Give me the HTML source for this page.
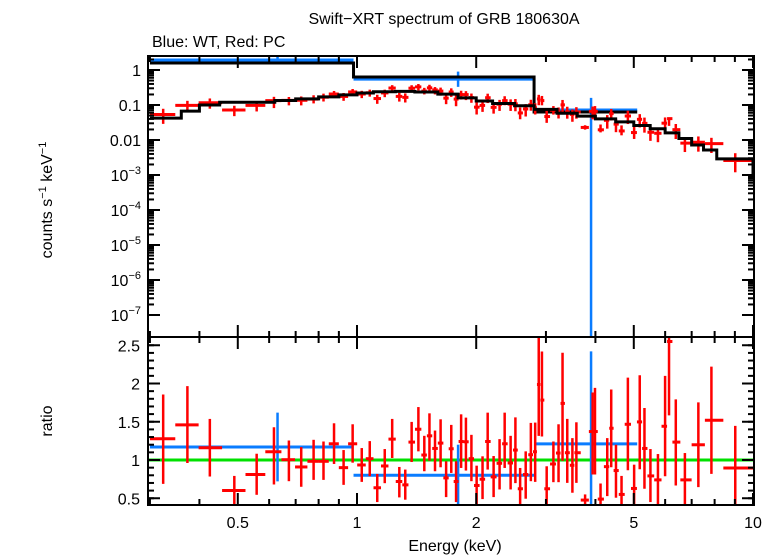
<!DOCTYPE html>
<html><head><meta charset="utf-8"><style>
html,body{margin:0;padding:0;background:#fff;}
svg{display:block;font-family:"Liberation Sans",Arial,sans-serif;}
</style></head><body>
<svg id="chart" width="779" height="556" viewBox="0 0 779 556" xmlns="http://www.w3.org/2000/svg">
<text x="444" y="24" font-size="16" text-anchor="middle">Swift−XRT spectrum of GRB 180630A</text>
<text x="152" y="47" font-size="16">Blue: WT, Red: PC</text>
<text transform="translate(52,200) rotate(-90)" font-size="16" text-anchor="middle">counts s<tspan dy="-6" font-size="11">−1</tspan><tspan dy="6"> keV</tspan><tspan dy="-6" font-size="11">−1</tspan></text>
<text transform="translate(52,421) rotate(-90)" font-size="16" text-anchor="middle">ratio</text>
<text x="455" y="551" font-size="16" text-anchor="middle">Energy (keV)</text>
<g id="g"></g>
</svg>
<script>
// ---- data ----
const redE = [0.324,0.373,0.425,0.490,0.558,0.617,0.673,0.723,0.777,0.823,0.875,0.925,0.975,1.028,1.077,1.125,1.175,1.227,1.279,1.324,1.374,1.429,1.479,1.524,1.574,1.626,1.679,1.730,1.779,1.832,1.884,1.945,2.005,2.075,2.138,2.213,2.291,2.360,2.443,2.512,2.582,2.667,2.748,2.818,2.877,2.931,3.013,3.133,3.228,3.304,3.396,3.499,3.581,3.767,3.936,3.990,4.121,4.285,4.385,4.508,4.656,4.831,5.01,5.176,5.32,5.508,5.754,5.998,6.137,6.383,6.730,7.278,7.852,9.02];
const redRatio = [1.277,1.459,1.160,0.602,0.810,1.108,1.004,0.909,0.983,0.983,1.212,0.900,1.212,0.935,1.017,0.637,0.922,1.273,0.719,0.675,1.234,1.402,1.065,1.316,1.151,1.221,0.766,1.147,0.719,1.242,1.238,1.017,0.667,0.749,1.242,0.779,0.957,1.212,0.961,1.130,0.624,0.810,1.069,1.108,1.987,1.783,0.624,0.948,1.091,1.740,1.095,0.931,1.095,0.476,1.372,1.372,0.489,0.913,1.415,0.862,0.550,1.467,0.628,1.498,1.151,0.792,0.740,1.441,2.549,1.234,0.740,1.199,1.519,0.896];
const redHi = [1.857,1.965,1.537,0.792,1.082,1.428,1.255,1.169,1.264,1.242,1.480,1.130,1.467,1.156,1.247,0.818,1.143,1.537,0.909,0.875,1.498,1.692,1.316,1.610,1.385,1.532,0.983,1.459,0.983,1.597,1.554,1.329,0.926,1.048,1.619,1.052,1.273,1.619,1.316,1.558,0.896,1.113,1.485,1.489,2.605,2.419,0.918,1.242,1.467,2.402,1.537,1.286,1.493,0.550,1.883,1.943,0.693,1.286,1.922,1.199,0.792,2.077,0.939,2.108,1.679,1.143,1.078,2.099,2.605,1.792,1.091,1.753,2.220,1.446];
const redLo = [0.688,0.961,0.784,0.40,0.545,0.680,0.723,0.650,0.740,0.740,0.948,0.675,0.965,0.714,0.788,0.450,0.697,1.026,0.511,0.481,0.974,1.113,0.853,0.991,0.853,0.905,0.515,0.831,0.450,0.896,0.862,0.723,0.412,0.489,0.875,0.515,0.615,0.896,0.615,0.697,0.412,0.494,0.723,0.714,1.316,1.307,0.412,0.710,0.710,0.991,0.701,0.572,0.701,0.412,0.810,0.810,0.412,0.528,0.905,0.507,0.412,0.866,0.412,0.879,0.624,0.450,0.412,0.788,1.584,0.667,0.412,0.645,0.818,0.412];
const modelEdges = [0.3,0.36,0.40,0.45,0.62,0.7,0.8,0.9,1.0,1.1,1.25,1.4,1.6,1.8,2.0,2.2,2.5,2.8,3.2,3.6,4.0,4.5,5.0,5.5,6.0,6.5,7.0,7.5,8.1,10];
const modelVals = [0.042,0.067,0.10,0.12,0.135,0.15,0.17,0.195,0.22,0.24,0.245,0.235,0.205,0.16,0.13,0.11,0.095,0.075,0.058,0.048,0.04,0.033,0.026,0.021,0.016,0.011,0.0072,0.0052,0.0029,0.00095];
const blueEdges = [0.3,0.98,2.8,5.1];
const blueE = [0.63,1.8,3.9];
const blueFlux = [1.93,0.55,0.072];
const blueFluxHi = [2.4,0.9,0.16];
const blueFluxLo = [1.55,0.33,1e-9];
const blueModel = [1.58,0.63,0.063];
const blueRatio = [1.17,0.80,1.21];
const blueRatioHi = [1.62,1.20,2.42];
const blueRatioLo = [0.72,0.40,0.40];
const xMajor = [0.5,1,2,5,10];
const xMajorLabels = ["0.5","1","2","5","10"];
const xMinor = [0.3,0.4,0.6,0.7,0.8,0.9,3,4,6,7,8,9];
const yDecades = [1,0.1,0.01,1e-3,1e-4,1e-5,1e-6,1e-7];
const yDecLabels = ["1","0.1","0.01","10|−3","10|−4","10|−5","10|−6","10|−7"];
const rMajor = [0.5,1,1.5,2,2.5];
const rLabels = ["0.5","1","1.5","2","2.5"];

// ---- axes ----
const X0=148,X1=754,TY0=56,TY1=337,BY0=337,BY1=505;
const xS = e => 357 + 396*Math.log10(e);
const yT = v => 70 - 35*Math.log10(v);
const yR = r => 460 - (r-1)*76.5;
const clampT = y => Math.max(TY0, Math.min(TY1, y));
const clampB = y => Math.max(BY0, Math.min(BY1, y));
const NS="http://www.w3.org/2000/svg";
const G=document.getElementById('g');
function mk(tag,attrs,parent){const el=document.createElementNS(NS,tag);for(const k in attrs)el.setAttribute(k,attrs[k]);(parent||G).appendChild(el);return el;}
function line(x1,y1,x2,y2,c,w,p){return mk('line',{x1,y1,x2,y2,stroke:c,'stroke-width':w},p);}
function modelAt(e){for(let i=0;i<modelVals.length;i++){if(e<modelEdges[i+1])return modelVals[i];}return modelVals[modelVals.length-1];}

// bins for red
const redEdges=[0.30];
for(let i=0;i<redE.length-1;i++)redEdges.push(Math.sqrt(redE[i]*redE[i+1]));
redEdges.push(10);

// blue (top)
const blueG=mk('g',{});


for(let i=0;i<blueE.length;i++){
  const y=yT(blueFlux[i]);
  line(xS(blueEdges[i]),y,xS(blueEdges[i+1]),y,'#0a7cff',3,blueG);
  line(xS(blueE[i]),clampT(yT(blueFluxHi[i])),xS(blueE[i]),clampT(yT(blueFluxLo[i])),'#0a7cff',2.5,blueG);
}
// blue model (black step)
let d='';
for(let i=0;i<blueModel.length;i++){const y=yT(blueModel[i]);d+=(i?'L':'M')+xS(blueEdges[i])+','+y+'L'+xS(blueEdges[i+1])+','+y;}
const bm=mk('path',{d,fill:'none',stroke:'#000','stroke-width':3});



// red (top)
const redG=mk('g',{});


for(let i=0;i<redE.length;i++){
  const m=modelAt(redE[i]);
  const y=yT(m*redRatio[i]);
  line(xS(redEdges[i]),y,xS(redEdges[i+1]),y,'#ff0000',3,redG);
  line(xS(redE[i]),clampT(yT(m*redHi[i])),xS(redE[i]),clampT(yT(m*redLo[i])),'#ff0000',2.5,redG);
}
// pc model
d='';
for(let i=0;i<modelVals.length;i++){const y=yT(modelVals[i]);d+=(i?'L':'M')+xS(modelEdges[i])+','+y+'L'+xS(modelEdges[i+1])+','+y;}
const pm=mk('path',{d,fill:'none',stroke:'#000','stroke-width':3});



// bottom ratio panel
const gl=line(X0,yR(1),X1,yR(1),'#00e000',3);


const brG=mk('g',{});


for(let i=0;i<blueE.length;i++){
  const y=yR(blueRatio[i]);
  line(xS(blueEdges[i]),y,xS(blueEdges[i+1]),y,'#0a7cff',3,brG);
  line(xS(blueE[i]),clampB(yR(blueRatioHi[i])),xS(blueE[i]),clampB(yR(blueRatioLo[i])),'#0a7cff',2.5,brG);
}
const rrG=mk('g',{});


for(let i=0;i<redE.length;i++){
  const y=yR(redRatio[i]);
  line(xS(redEdges[i]),y,xS(redEdges[i+1]),y,'#ff0000',3,rrG);
  line(xS(redE[i]),clampB(yR(redHi[i])),xS(redE[i]),clampB(yR(redLo[i])),'#ff0000',2.5,rrG);
}

// frames & ticks
const ax=mk('g',{});


mk('rect',{x:X0,y:TY0,width:X1-X0,height:TY1-TY0,fill:'none',stroke:'#000','stroke-width':2},ax);
mk('rect',{x:X0,y:BY0,width:X1-X0,height:BY1-BY0,fill:'none',stroke:'#000','stroke-width':2},ax);
for(const [a,b] of [[TY0,TY1],[BY0,BY1]]){
  xMajor.forEach(e=>{const x=xS(e);line(x,a,x,a+12,'#000',2,ax);line(x,b,x,b-12,'#000',2,ax);});
  xMinor.forEach(e=>{const x=xS(e);line(x,a,x,a+6,'#000',2,ax);line(x,b,x,b-6,'#000',2,ax);});
}
xMajor.forEach((e,i)=>{const t=mk('text',{x:xS(e),y:528,'font-size':16,'text-anchor':'middle'},ax);t.textContent=xMajorLabels[i];});
// top y ticks
yDecades.forEach((v,i)=>{
  const y=yT(v);
  line(X0,y,X0+12,y,'#000',2,ax);line(X1,y,X1-12,y,'#000',2,ax);
  for(let k=2;k<=9;k++){const ym=yT(v*k);if(ym<TY0)continue;line(X0,ym,X0+6,ym,'#000',2,ax);line(X1,ym,X1-6,ym,'#000',2,ax);}
  const t=mk('text',{x:141,y:y+6,'font-size':16,'text-anchor':'end'},ax);
  const p=yDecLabels[i].split('|');
  if(p.length===1)t.textContent=p[0];
  else{t.textContent=p[0];const s=mk('tspan',{dy:-7,'font-size':11},t);s.textContent=p[1];}
});
// ratio ticks
for(let r=0.5;r<=2.6;r+=0.1){const y=yR(r);if(y<BY0)continue;line(X0,y,X0+6,y,'#000',2,ax);line(X1,y,X1-6,y,'#000',2,ax);}
rMajor.forEach((r,i)=>{const y=yR(r);line(X0,y,X0+12,y,'#000',2,ax);line(X1,y,X1-12,y,'#000',2,ax);
  const t=mk('text',{x:140,y:y+6,'font-size':16,'text-anchor':'end'},ax);t.textContent=rLabels[i];});
</script>
</body></html>
